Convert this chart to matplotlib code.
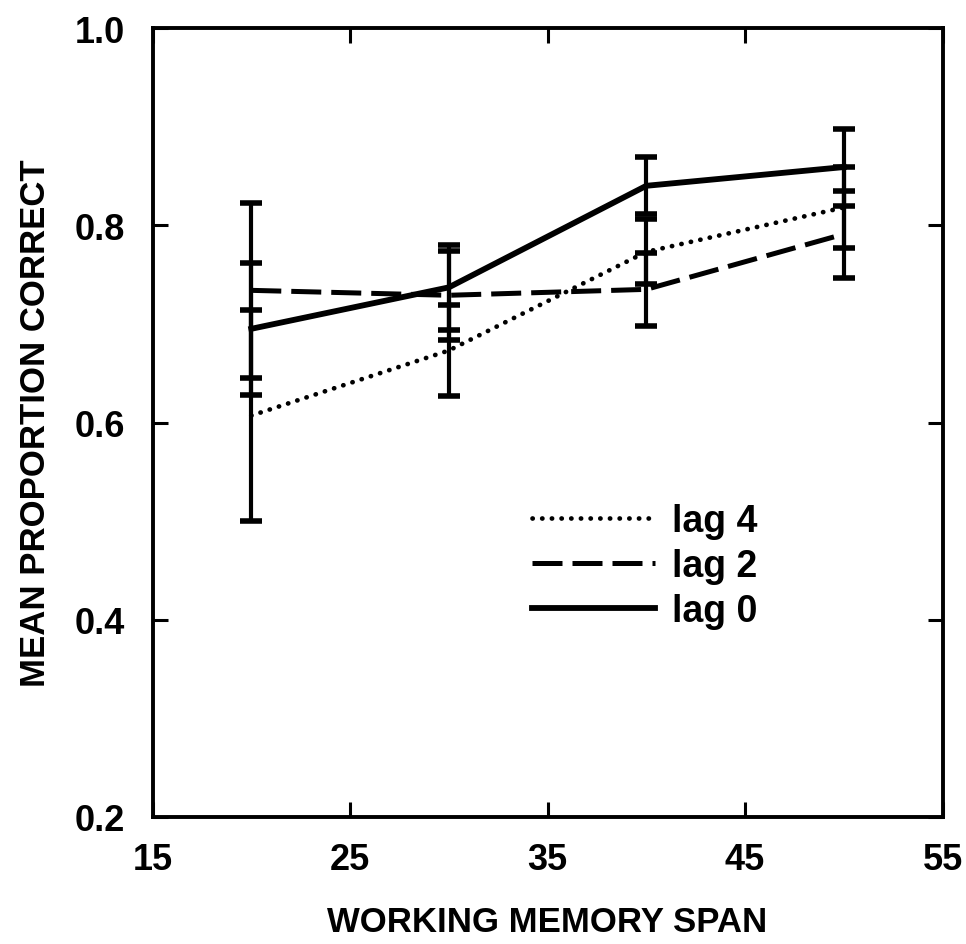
import matplotlib
matplotlib.use('Agg')
import matplotlib.pyplot as plt
from matplotlib.lines import Line2D

plt.rcParams['font.family'] = ['Liberation Sans', 'DejaVu Sans']

span = [20, 30, 40, 50]

lag4_mean = [0.607, 0.673, 0.773, 0.818]
lag4_err = [0.107, 0.046, 0.033, 0.041]

lag2_mean = [0.734, 0.729, 0.735, 0.791]
lag2_err = [0.089, 0.045, 0.037, 0.044]

lag0_mean = [0.695, 0.737, 0.840, 0.859]
lag0_err = [0.067, 0.043, 0.029, 0.039]

x_ticks = [15, 25, 35, 45, 55]
y_ticks = [0.2, 0.4, 0.6, 0.8, 1.0]

fig = plt.figure(figsize=(9.66, 9.45), dpi=100)
ax = fig.add_axes([0.1579, 0.1344, 0.8178, 0.8349])

dotted = (0, (0.05, 2.0))
dashed = (0, (6, 2))

ax.errorbar(span, lag4_mean, yerr=lag4_err, color='black', linestyle=dotted,
            linewidth=3.4, dash_capstyle='round', elinewidth=3, capsize=8, capthick=4)
ax.errorbar(span, lag2_mean, yerr=lag2_err, color='black', linestyle=dashed,
            linewidth=3.6, elinewidth=3, capsize=8, capthick=4)
ax.errorbar(span, lag0_mean, yerr=lag0_err, color='black', linestyle='-',
            linewidth=4.2, elinewidth=3, capsize=8, capthick=4)

ax.set_xlim(15, 55)
ax.set_ylim(0.2, 1.0)
ax.set_xticks(x_ticks)
ax.set_yticks(y_ticks)
ax.set_yticklabels(['%.1f' % v for v in y_ticks])

for s in ax.spines.values():
    s.set_linewidth(2.8)

ax.tick_params(direction='in', length=11, width=2.2, top=True, right=True,
               labelsize=26)
ax.tick_params(axis='y', pad=20)
ax.tick_params(axis='x', pad=18)
for lab in ax.get_xticklabels() + ax.get_yticklabels():
    lab.set_fontweight('bold')

ax.set_xlabel('WORKING MEMORY SPAN', fontsize=25, fontweight='bold', labelpad=20)
ax.set_ylabel('MEAN PROPORTION CORRECT', fontsize=25, fontweight='bold', labelpad=16)

handles = [
    Line2D([], [], color='black', linestyle=dotted, linewidth=3.4, dash_capstyle='round'),
    Line2D([], [], color='black', linestyle=dashed, linewidth=3.6),
    Line2D([], [], color='black', linestyle='-', linewidth=4.2),
]
leg = ax.legend(handles, ['lag 4', 'lag 2', 'lag 0'], loc='center left',
                bbox_to_anchor=(0.48, 0.318), frameon=False, borderpad=0,
                borderaxespad=0, handlelength=3.3, handletextpad=0.45,
                labelspacing=0.25, prop={'size': 27, 'weight': 'bold'})

plt.savefig('out.png', dpi=100)
